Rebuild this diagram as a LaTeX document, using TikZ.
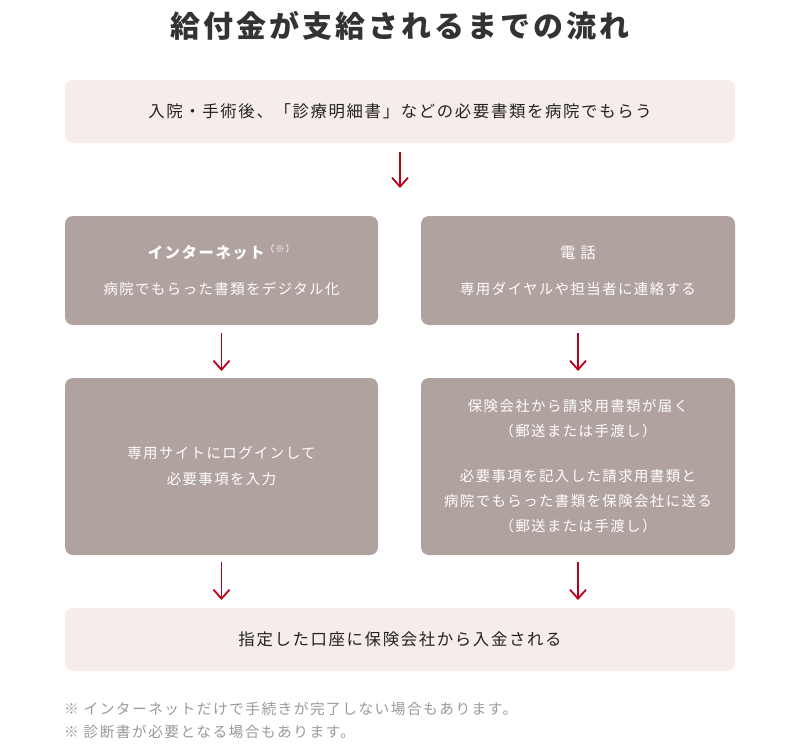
\documentclass[tikz,border=0pt]{standalone}
\usepackage{fontspec}
\setmainfont{Noto Sans CJK JP}[LetterSpace=10]
\usetikzlibrary{arrows.meta}
\definecolor{pinkbg}{HTML}{F6ECEA}
\definecolor{greybox}{HTML}{B0A29F}
\definecolor{arrred}{HTML}{C0001A}
\definecolor{titlecol}{HTML}{333333}
\definecolor{darktext}{HTML}{222222}
\definecolor{notecol}{HTML}{999999}
\tikzset{
  lightbox/.style={fill=pinkbg, rounded corners=8pt, inner sep=0pt, outer sep=0pt,
    minimum width=670pt, minimum height=63pt, text=darktext, align=center,
    font=\fontsize{16.4}{20}\selectfont},
  greybx/.style={fill=greybox, rounded corners=8pt, inner sep=0pt, outer sep=0pt,
    minimum width=313pt, text=white, align=center,
    font=\fontsize{14.4}{17}\selectfont},
  arr/.style={draw=arrred, line width=1.8pt, -{Straight Barb[length=9pt,width=16pt]}},
  notetext/.style={anchor=west, inner sep=0pt, text=notecol, font=\fontsize{14.7}{17}\selectfont}
}
\begin{document}
\begin{tikzpicture}[x=1pt,y=-1pt]
\useasboundingbox (0,0) rectangle (800,752);
\node[text=titlecol, font=\fontsize{30}{34}\selectfont\bfseries] (title) at (400,26) {給付金が支給されるまでの流れ};
\node[lightbox] (T) at (400,111.5) {入院・手術後、「診療明細書」などの必要書類を病院でもらう};
\node[greybx, minimum height=109pt] (L1) at (221.5,270.5)
  {{\fontsize{15.4}{17}\selectfont\bfseries インターネット}\raisebox{6pt}{\fontsize{9.5}{9}\selectfont （※）}\\[19pt]病院でもらった書類をデジタル化};
\node[greybx, minimum height=109pt, minimum width=314pt] (R1) at (578,270.5)
  {{\fontsize{15.4}{17}\selectfont 電 話}\\[19pt]専用ダイヤルや担当者に連絡する};
\node[greybx, minimum height=177pt, font=\fontsize{14.4}{26}\selectfont] (L2) at (221.5,466.5)
  {専用サイトにログインして\\必要事項を入力};
\node[greybx, minimum height=177pt, minimum width=314pt, font=\fontsize{14.4}{25}\selectfont] (R2) at (578,466.5)
  {保険会社から請求用書類が届く\\（郵送または手渡し）\\[20pt]必要事項を記入した請求用書類と\\病院でもらった書類を保険会社に送る\\（郵送または手渡し）};
\node[lightbox] (B) at (400,639.5) {指定した口座に保険会社から入金される};
\draw[arr, shorten <=9pt, shorten >=28pt] (T.south) -- (T.south |- L1.north);
\draw[arr, shorten <=8pt, shorten >=7pt] (L1.south) -- (L2.north);
\draw[arr, shorten <=8pt, shorten >=7pt] (R1.south) -- (R2.north);
\draw[arr, shorten <=7pt, shorten >=8pt] (L2.south) -- (L2.south |- B.north);
\draw[arr, shorten <=7pt, shorten >=8pt] (R2.south) -- (R2.south |- B.north);
\node[notetext] (n1) at (64,709) {※ インターネットだけで手続きが完了しない場合もあります。};
\node[notetext] (n2) at (64,732) {※ 診断書が必要となる場合もあります。};
\end{tikzpicture}
\end{document}
